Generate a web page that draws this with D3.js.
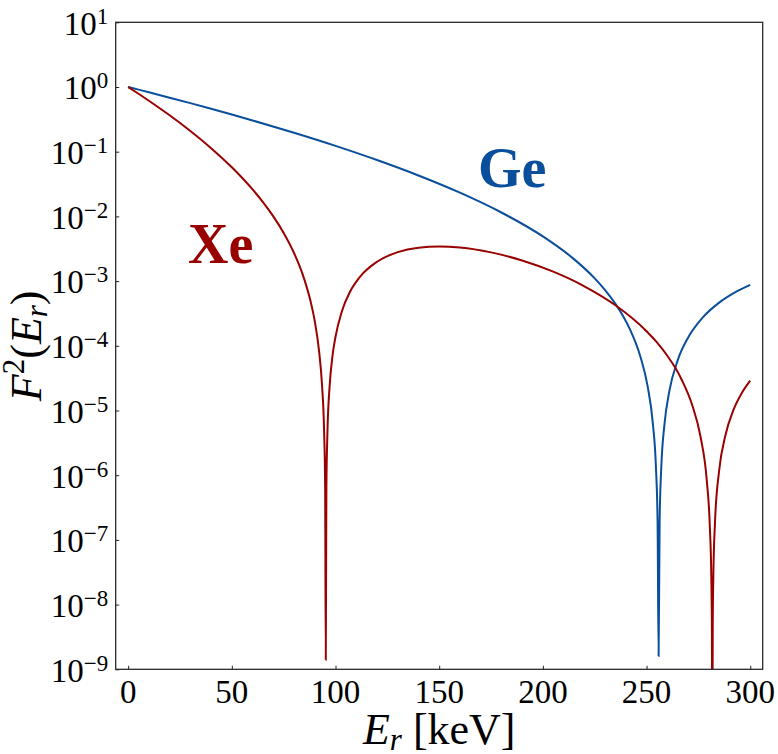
<!DOCTYPE html>
<html><head><meta charset="utf-8">
<script src="https://cdn.jsdelivr.net/npm/d3@7"></script>
<style>body{margin:0;background:#fff}svg{display:block}</style>
</head><body>
<svg id="chart" width="778" height="754"></svg>
<script>
// Recoil energy [keV] and squared form factor
const xeEnergy = [0,5,10,20,30,40,50,60,65,70,75,80,82.5,85,88,90,92,93.5,94.5,95.0,95.3,95.6,96.1,97.1,98.6,100,103,107,112,120,130,140,150,160,175,190,205,220,235,250,255,260,264,267,272,276,279,280.5,281.2,281.5,281.7,281.9,282.2,283,285,288,292,296,300];
const xeF2 = [1,0.7863,0.6140,0.3653,0.2089,0.1134,0.05736,0.02610,0.01663,0.009996,0.005545,0.002716,0.001759,0.001055,4.833e-4,2.396e-4,8.67e-5,2.455e-5,4.726e-6,6.56e-7,1.4e-9,6.46e-7,4.534e-6,2.236e-5,7.22e-5,1.378e-4,3.363e-4,6.832e-4,0.001184,0.001990,0.002802,0.003283,0.003431,0.003305,0.002781,0.002083,0.001398,8.317e-4,4.230e-4,1.680e-4,1.128e-4,7.03e-5,4.48e-5,2.962e-5,1.2145e-5,3.962e-6,8.50e-7,1.629e-7,2.83e-8,4.5e-9,1e-11,4.5e-9,2.82e-8,1.876e-7,1.182e-6,4.120e-6,1.040e-5,1.880e-5,2.886e-5];
const geEnergy = [0,5,10,20,30,40,50,60,80,100,120,140,160,180,200,215,225,230,235,239,242,247,250.5,253,254.5,255.3,255.8,256.3,257.1,258.6,261,265,270,277,285,292,300];
const geF2 = [1,0.9108,0.8288,0.6843,0.5627,0.4606,0.3753,0.3041,0.1961,0.1230,0.07435,0.04293,0.02326,0.01149,0.004902,0.002185,0.0011015,7.267e-4,4.441e-4,2.757e-4,1.793e-4,6.846e-5,2.376e-5,6.430e-6,1.357e-6,1.987e-7,1.6e-9,1.971e-7,1.320e-6,5.995e-6,2.006e-5,5.966e-5,1.334e-4,2.719e-4,4.655e-4,6.535e-4,8.77e-4];
const xTicks = [0,50,100,150,200,250,300];
const yTickExponents = [-9,-8,-7,-6,-5,-4,-3,-2,-1,0,1];
const seriesNames = ["Xe","Ge"];

const svg = d3.select("#chart");
const L = 115.7, R = 762.7, T = 22.3, B = 669.3;
const x = d3.scaleLinear().domain([-6, 306]).range([L, R]);
const y = d3.scaleLog().domain([1e-9, 1e1]).range([B, T]);
const serif = "'Liberation Serif','DejaVu Serif',serif";
const xeColor = "#990000", geColor = "#0a4f9c";

svg.append("rect").attr("width",778).attr("height",754).attr("fill","#fff");
svg.append("defs").append("clipPath").attr("id","clip")
  .append("rect").attr("x",L).attr("y",T).attr("width",R-L).attr("height",B-T);

const line = d3.line().x(d=>x(d[0])).y(d=>y(d[1])).curve(d3.curveMonotoneX);
const plot = svg.append("g").attr("clip-path","url(#clip)");
plot.append("path").datum(geEnergy.map((e,i)=>[e,geF2[i]]))
  .attr("d",line).attr("fill","none").attr("stroke",geColor).attr("stroke-width",2);
plot.append("path").datum(xeEnergy.map((e,i)=>[e,xeF2[i]]))
  .attr("d",line).attr("fill","none").attr("stroke",xeColor).attr("stroke-width",2);

// axes (inward ticks)
const gx = svg.append("g").attr("transform",`translate(0,${B})`)
  .call(d3.axisBottom(x).tickValues(xTicks).tickSizeInner(-3.5).tickSizeOuter(0).tickFormat(""));
const gy = svg.append("g").attr("transform",`translate(${L},0)`)
  .call(d3.axisLeft(y).tickValues(yTickExponents.map(p=>Math.pow(10,p))).tickSizeInner(-3.5).tickSizeOuter(0).tickFormat(""));
[gx,gy].forEach(g=>{g.select(".domain").remove(); g.selectAll("line").attr("stroke","#222").attr("stroke-width",1);});

svg.append("rect").attr("x",L).attr("y",T).attr("width",R-L).attr("height",B-T)
  .attr("fill","none").attr("stroke","#222").attr("stroke-width",1.25);

// x tick labels
svg.append("g").selectAll("text").data(xTicks).join("text")
  .attr("x",d=>x(d)).attr("y",B+33.5).attr("text-anchor","middle")
  .attr("font-family",serif).attr("font-size",33).attr("fill","#000").text(d=>d);

// y tick labels 10^n
const yl = svg.append("g").selectAll("text").data(yTickExponents).join("text")
  .attr("x",L-7.5).attr("y",d=>y(Math.pow(10,d))+12.3).attr("text-anchor","end")
  .attr("font-family",serif).attr("font-size",33).attr("fill","#000");
yl.append("tspan").text("10");
yl.append("tspan").attr("font-size",23).attr("dy",-11).text(d=>String(d).replace("-","\u2212"));

// x axis label
const xlab = svg.append("text").attr("x",(L+R)/2).attr("y",744).attr("text-anchor","middle")
  .attr("font-family",serif).attr("font-size",44).attr("fill","#000");
xlab.append("tspan").attr("font-style","italic").text("E");
xlab.append("tspan").attr("font-style","italic").attr("font-size",31).attr("dy",6).text("r");
xlab.append("tspan").attr("dy",-6).text(" [keV]");

// y axis label
const ylab = svg.append("text").attr("transform",`translate(41,${(T+B)/2}) rotate(-90)`)
  .attr("text-anchor","middle").attr("font-family",serif).attr("font-size",44).attr("fill","#000");
ylab.append("tspan").attr("font-style","italic").text("F");
ylab.append("tspan").attr("font-size",31).attr("dy",-17).text("2");
ylab.append("tspan").attr("dy",17).text("(");
ylab.append("tspan").attr("font-style","italic").text("E");
ylab.append("tspan").attr("font-style","italic").attr("font-size",31).attr("dy",6).text("r");
ylab.append("tspan").attr("dy",-6).text(")");

// series labels
svg.append("text").attr("x",188).attr("y",262.7).attr("font-family",serif).attr("font-weight","bold")
  .attr("font-size",56).attr("fill",xeColor).text(seriesNames[0]);
svg.append("text").attr("x",478).attr("y",187.3).attr("font-family",serif).attr("font-weight","bold")
  .attr("font-size",56).attr("fill",geColor).text(seriesNames[1]);
</script>
</body></html>
